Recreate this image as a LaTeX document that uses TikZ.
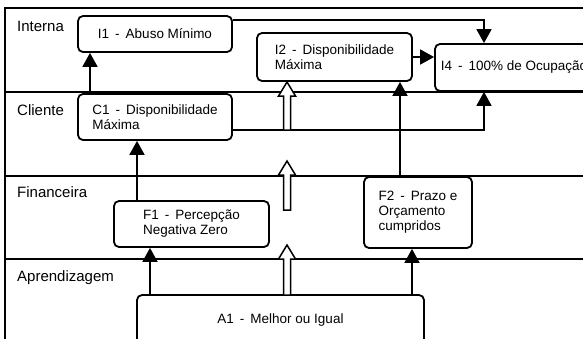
\documentclass[tikz,border=0pt]{standalone}
\usepackage{fontspec}
\setmainfont{Liberation Sans}
\usetikzlibrary{arrows.meta,calc}
\newcommand\hollowarrow[3]{%
  \draw[hollow] (#1,#2) -- (#1+8.5,#2+14) -- (#1+3.5,#2+14) -- (#1+3.5,#3) -- (#1-3.5,#3) -- (#1-3.5,#2+14) -- (#1-8.5,#2+14) -- cycle;}
\begin{document}
\begin{tikzpicture}[x=1pt,y=-1pt,
  box/.style={draw,fill=white,line width=1.8pt,rounded corners=5pt,align=left,inner sep=0pt,font=\fontsize{13.5}{15}\selectfont},
  lane/.style={line width=2.5pt},
  arr/.style={line width=1.8pt,-{Triangle[length=14pt,width=15pt]}},
  lbl/.style={anchor=base west,inner sep=0pt,font=\fontsize{15}{16}\selectfont},
  hollow/.style={draw,fill=white,line width=1.5pt,line join=miter}]
\useasboundingbox (0,0) rectangle (583,338);
\clip (0,0) rectangle (583,338);
\fill[white] (0,0) rectangle (583,338);
% lanes
\draw[lane] (5,350) -- (5,8) -- (600,8);
\draw[lane] (5,92) -- (600,92);
\draw[lane] (5,176) -- (600,176);
\draw[lane] (5,259) -- (600,259);
\node[lbl] (lInt) at (17,31) {Interna};
\node[lbl] (lCli) at (17,115) {Cliente};
\node[lbl] (lFin) at (17,197) {Financeira};
\node[lbl] (lApr) at (17,281) {Aprendizagem};
% boxes
\node[box,minimum width=154pt,minimum height=36pt] (I1) at (155,34) {I1 \,-\, Abuso Mínimo};
\node[box,minimum width=154pt,minimum height=46pt] (C1) at (155,117) {C1 \,-\, Disponibilidade\\Máxima};
\node[box,minimum width=155pt,minimum height=48pt] (I2) at (334.5,57) {I2 \,-\, Disponibilidade\\Máxima};
\node[box,minimum width=158pt,minimum height=47pt] (I4) at (514,67.5) {I4 \,-\, 100\% de Ocupação};
\node[box,minimum width=155pt,minimum height=46pt] (F1) at (191.5,224) {F1 \,-\, Percepção\\Negativa Zero};
\node[box,minimum width=108pt,minimum height=71pt] (F2) at (418,212.5) {F2 \,-\, Prazo e\\Orçamento\\cumpridos};
\node[box,minimum width=287pt,minimum height=50pt] (A1) at (280.5,320) {A1 \,-\, Melhor ou Igual};
% helper coordinates
\coordinate (xa) at (150,0);
\coordinate (xb) at (412,0);
\coordinate (xc) at (137,0);
\coordinate (xd) at (90,0);
\coordinate (xe) at (400,0);
\coordinate (xf) at (484,0);
\coordinate (ya) at (0,20);
\coordinate (yb) at (0,130);
% filled arrows
\draw[arr] (A1.north -| xa) -- (F1.south -| xa);
\draw[arr] (A1.north -| xb) -- (F2.south -| xb);
\draw[arr] (F1.north -| xc) -- (C1.south -| xc);
\draw[arr] (C1.north -| xd) -- (I1.south -| xd);
\draw[arr] (F2.north -| xe) -- (I2.south -| xe);
\draw[arr] (I1.east |- ya) -- (xf |- ya) -- (I4.north -| xf);
\draw[arr] (I2.east) -- (I4.west |- I2.east);
\draw[arr] (C1.east |- yb) -- (xf |- yb) -- (I4.south -| xf);
% hollow arrows
\hollowarrow{287}{82}{130}
\hollowarrow{287}{161}{210}
\hollowarrow{287}{245}{295}
\end{tikzpicture}
\end{document}
